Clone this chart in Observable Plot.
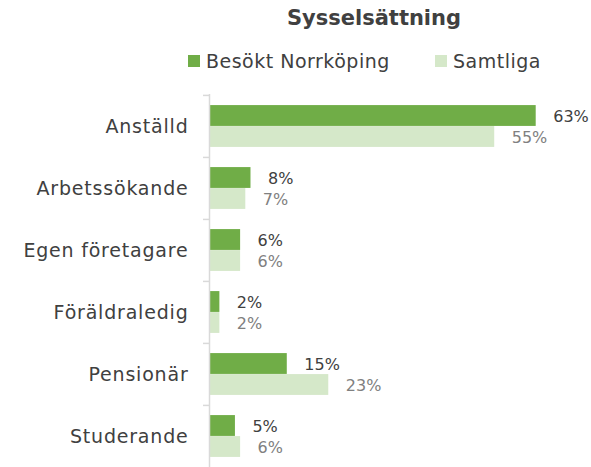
<!DOCTYPE html>
<html>
<head>
<meta charset="utf-8">
<script src="https://cdn.jsdelivr.net/npm/d3@7"></script>
<script src="https://cdn.jsdelivr.net/npm/@observablehq/plot@0.6"></script>
<style>
  body { margin: 0; background: #fff; font-family: "DejaVu Sans", sans-serif; }
  #wrap { position: relative; width: 591px; height: 467px; }
  #title { position: absolute; left: 0; width: 748px; top: 6px; text-align: center; font-size: 21px; font-weight: bold; color: #404040; }
  .leg { position: absolute; top: 50px; font-size: 19px; letter-spacing: 0.5px; color: #404040; display: flex; align-items: center; white-space: nowrap; }
  .sw { width: 12px; height: 12px; margin-right: 6px; display: inline-block; }
  #chart { position: absolute; left: 0; top: 0; }
  #chart svg g[aria-label="y-axis tick label"] text { letter-spacing: 0.8px; }
</style>
</head>
<body>
<div id="wrap">
  <div id="chart"></div>
  <div id="title">Sysselsättning</div>
  <div class="leg" style="left:188px"><span class="sw" style="background:#70ad47"></span>Besökt Norrköping</div>
  <div class="leg" style="left:435px"><span class="sw" style="background:#d5e8c9"></span>Samtliga</div>
</div>
<script>
const categories = ["Anställd", "Arbetssökande", "Egen företagare", "Föräldraledig", "Pensionär", "Studerande"];
const besokt = [63, 8, 6, 2, 15, 5];
const samtliga = [55, 7, 6, 2, 23, 6];
const seriesNames = ["Besökt Norrköping", "Samtliga"];
const seriesColors = ["#70ad47", "#d5e8c9"];
const labelColors = ["#404040", "#808080"];

const rowsA = categories.map((c, i) => ({category: c, value: besokt[i], series: seriesNames[0]}));
const rowsB = categories.map((c, i) => ({category: c, value: samtliga[i], series: seriesNames[1]}));

const H = 467, mTop = 94, mBottom = 0;
const band = (H - mTop - mBottom) / categories.length;
const barH = 21;
const gap = (band - 2 * barH) / 2;

const plot = Plot.plot({
  width: 591,
  height: H,
  marginTop: mTop,
  marginBottom: mBottom,
  marginLeft: 209,
  marginRight: 19,
  style: {fontFamily: "DejaVu Sans, sans-serif", background: "transparent"},
  x: {domain: [0, 70], axis: null},
  y: {domain: categories, padding: 0, axis: null},
  marks: [
    Plot.barX(rowsA, {y: "category", x: "value", fill: seriesColors[0], insetTop: gap, insetBottom: band - gap - barH}),
    Plot.barX(rowsB, {y: "category", x: "value", fill: seriesColors[1], insetTop: gap + barH, insetBottom: gap}),
    Plot.text(rowsA, {y: "category", x: "value", text: d => d.value + "%", textAnchor: "start", dx: 17, dy: -barH / 2 + 1, fontSize: 16, fill: labelColors[0]}),
    Plot.text(rowsB, {y: "category", x: "value", text: d => d.value + "%", textAnchor: "start", dx: 17, dy: barH / 2 + 1, fontSize: 16, fill: labelColors[1]}),
    Plot.ruleX([0], {stroke: "#d9d9d9", strokeWidth: 1.5}),
    Plot.axisY({tickSize: 6, text: null, stroke: "#d9d9d9", strokeWidth: 1.5, dy: -band / 2, label: null}),
    Plot.axisY({tickSize: 0, tickPadding: 21, fontSize: 19, fill: "#404040", label: null})
  ]
});
document.getElementById("chart").appendChild(plot);
</script>
</body>
</html>
